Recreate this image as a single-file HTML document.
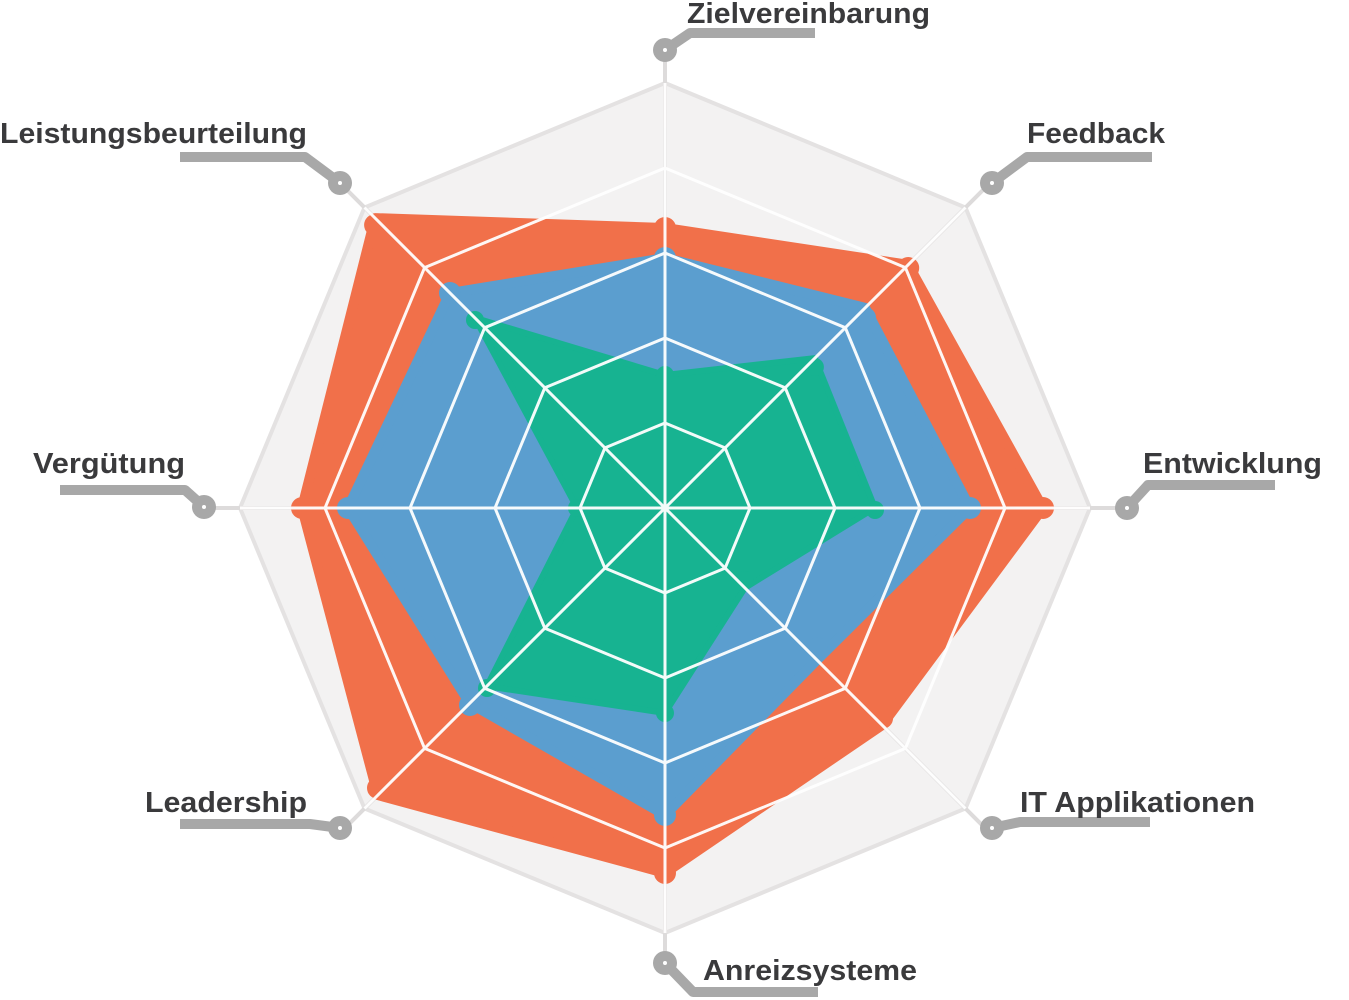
<!DOCTYPE html>
<html><head><meta charset="utf-8"><style>
html,body{margin:0;padding:0;background:#fff;}
svg{display:block;}
text{font-family:"Liberation Sans",Arial,sans-serif;font-weight:bold;font-size:29px;fill:#3a3a3c;}
</style></head><body>
<svg width="1349" height="1000" viewBox="0 0 1349 1000" xmlns="http://www.w3.org/2000/svg">
<polygon points="665,83 965.5,207.5 1090,508 965.5,808.5 665,933 364.5,808.5 240,508 364.5,207.5" fill="#f3f2f2" stroke="#e4e2e2" stroke-width="4"/>
<g stroke="#dddbdb" stroke-width="4">
<line x1="665" y1="508" x2="665" y2="48"/>
<line x1="665" y1="508" x2="990.3" y2="182.7"/>
<line x1="665" y1="508" x2="1125" y2="508"/>
<line x1="665" y1="508" x2="990.3" y2="833.3"/>
<line x1="665" y1="508" x2="665" y2="968"/>
<line x1="665" y1="508" x2="339.7" y2="833.3"/>
<line x1="665" y1="508" x2="205" y2="508"/>
<line x1="665" y1="508" x2="339.7" y2="182.7"/>
</g>
<g stroke-linejoin="round">
<polygon points="665,228 908.2,264.8 1043,508 882.1,725.1 665,873 377.9,795.1 302,508 375.1,218.1" fill="#f1704a" stroke="#f1704a" stroke-width="10"/>
<polygon points="665,258 865.1,307.9 970,508 817,660 665,815 469.8,703.2 348,508 450,293" fill="#5b9ecf" stroke="#5b9ecf" stroke-width="10"/>
<polygon points="665,375 814.9,358.1 875,508 744.9,587.9 665,713 486.8,686.2 577,508 474.8,317.8" fill="#17b391" stroke="#17b391" stroke-width="6"/>
</g>
<g fill="#f1704a">
<circle cx="665" cy="228" r="11"/><circle cx="908.2" cy="268" r="11"/><circle cx="1043" cy="508" r="11"/><circle cx="882.1" cy="718" r="11"/><circle cx="665" cy="873" r="11"/><circle cx="378" cy="788" r="11"/><circle cx="302" cy="508" r="11"/><circle cx="375.1" cy="225" r="11"/>
</g>
<g fill="#5b9ecf">
<circle cx="665" cy="258" r="11"/><circle cx="865.1" cy="318" r="11"/><circle cx="970" cy="508" r="11"/><circle cx="817" cy="648" r="11"/><circle cx="665" cy="815" r="11"/><circle cx="470" cy="705" r="11"/><circle cx="348" cy="508" r="11"/><circle cx="450" cy="293" r="11"/>
</g>
<g fill="#17b391">
<circle cx="665" cy="375" r="9"/><circle cx="814.9" cy="367" r="9"/><circle cx="875" cy="510" r="9"/><circle cx="744.9" cy="580" r="9"/><circle cx="665" cy="713" r="9"/><circle cx="487" cy="688" r="9"/><circle cx="577" cy="508" r="9"/><circle cx="475" cy="320" r="9"/>
</g>
<g fill="none" stroke="#ffffff" stroke-width="3" opacity="0.95">
<polygon points="665,423 725.1,447.9 750,508 725.1,568.1 665,593 604.9,568.1 580,508 604.9,447.9"/>
<polygon points="665,338 785.2,387.8 835,508 785.2,628.2 665,678 544.8,628.2 495,508 544.8,387.8"/>
<polygon points="665,253 845.3,327.7 920,508 845.3,688.3 665,763 484.7,688.3 410,508 484.7,327.7"/>
<polygon points="665,168 905.4,267.6 1005,508 905.4,748.4 665,848 424.6,748.4 325,508 424.6,267.6"/>
<line x1="665" y1="508" x2="665" y2="83"/>
<line x1="665" y1="508" x2="965.5" y2="207.5"/>
<line x1="665" y1="508" x2="1090" y2="508"/>
<line x1="665" y1="508" x2="965.5" y2="808.5"/>
<line x1="665" y1="508" x2="665" y2="933"/>
<line x1="665" y1="508" x2="364.5" y2="808.5"/>
<line x1="665" y1="508" x2="240" y2="508"/>
<line x1="665" y1="508" x2="364.5" y2="207.5"/>
</g>
<g fill="none" stroke="#a8a8a8" stroke-width="10" stroke-linejoin="round">
<polyline points="665,50 690,33 815,33"/>
<polyline points="992,183 1027,157 1152,157"/>
<polyline points="1127,508 1148,485 1275,485"/>
<polyline points="992,828 1020,822 1150,822"/>
<polyline points="665,963 693,992 818,992"/>
<polyline points="340,828 310,824 180,824"/>
<polyline points="204,507 185,490 60,490"/>
<polyline points="340,183 305,157 180,157"/>
</g>
<g fill="#a8a8a8">
<circle cx="665" cy="50" r="12"/><circle cx="992" cy="183" r="12"/><circle cx="1127" cy="508" r="12"/><circle cx="992" cy="828" r="12"/><circle cx="665" cy="963" r="12"/><circle cx="340" cy="828" r="12"/><circle cx="204" cy="507" r="12"/><circle cx="340" cy="183" r="12"/>
</g>
<g fill="#ffffff">
<circle cx="665" cy="50" r="2"/><circle cx="992" cy="183" r="2"/><circle cx="1127" cy="508" r="2"/><circle cx="992" cy="828" r="2"/><circle cx="665" cy="963" r="2"/><circle cx="340" cy="828" r="2"/><circle cx="204" cy="507" r="2"/><circle cx="340" cy="183" r="2"/>
</g>
<text x="687" y="23" textLength="243" lengthAdjust="spacingAndGlyphs">Zielvereinbarung</text>
<text x="1027" y="143" textLength="138" lengthAdjust="spacingAndGlyphs">Feedback</text>
<text x="1143" y="473" textLength="179" lengthAdjust="spacingAndGlyphs">Entwicklung</text>
<text x="1020" y="812" textLength="235" lengthAdjust="spacingAndGlyphs">IT Applikationen</text>
<text x="703" y="980" textLength="214" lengthAdjust="spacingAndGlyphs">Anreizsysteme</text>
<text x="145" y="812" textLength="162" lengthAdjust="spacingAndGlyphs">Leadership</text>
<text x="33" y="473" textLength="152" lengthAdjust="spacingAndGlyphs">Vergütung</text>
<text x="0" y="143" textLength="307" lengthAdjust="spacingAndGlyphs">Leistungsbeurteilung</text>
</svg>
</body></html>
